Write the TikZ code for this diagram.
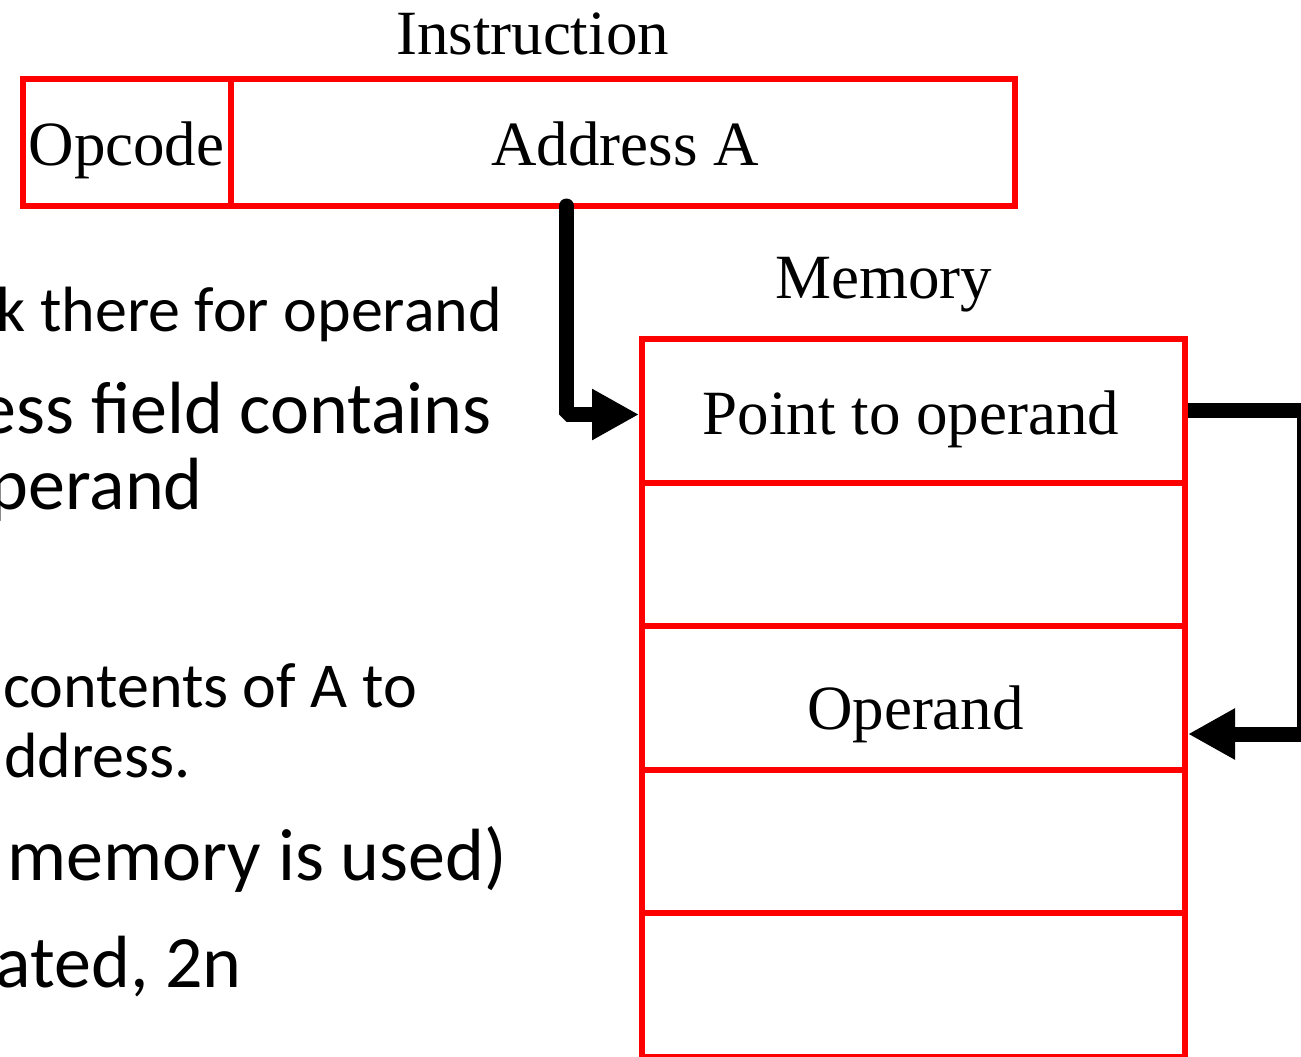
\documentclass[tikz,border=0pt]{standalone}
\usepackage{fontspec}
\setmainfont{Liberation Serif}
\newfontfamily\bodyfont{Carlito}
\usetikzlibrary{arrows.meta}

\tikzset{
  cell/.style={draw=red, line width=6pt, inner sep=0pt, minimum width=#1},
  memrow/.style={draw=red, line width=6pt, inner sep=0pt, minimum width=543pt, minimum height=143.5pt},
  serif/.style={inner sep=0pt, anchor=base, font=\fontsize{63}{70}\selectfont},
  bullet/.style={inner sep=0pt, anchor=base east, font=\bodyfont\fontsize{64}{72}\selectfont},
  subbullet/.style={inner sep=0pt, anchor=base east, font=\bodyfont\fontsize{74}{82}\selectfont},
  conn/.style={line width=15pt, -{Triangle[length=47pt,width=48pt]}}
}

\begin{document}
\begin{tikzpicture}[x=1pt, y=-1pt]
  \useasboundingbox (0,0) rectangle (1301,1057);
  \clip (0,0) rectangle (1301,1057);

  % instruction word
  \node[serif] (instr) at (532.5,55) {Instruction};
  \node[cell=207.5pt, minimum height=127pt] (opc) at (126.75,142.5) {};
  \node[cell=784.5pt, minimum height=127pt] (addr) at (622.75,142.5) {};
  \node[serif] (opctxt) at (126.5,165) {Opcode};
  \node[serif] (addrtxt) at (625,165) {Address A};

  % memory column
  \node[serif] (memtitle) at (883.5,298) {Memory};
  \node[memrow] (row1) at (913.5,410.75) {};
  \node[memrow] (row2) at (913.5,554.25) {};
  \node[memrow] (row3) at (913.5,697.75) {};
  \node[memrow] (row4) at (913.5,841.25) {};
  \node[memrow] (row5) at (913.5,984.75) {};
  \node[serif] (ptr) at (911,434) {Point to operand};
  \node[serif] (opd) at (915.5,729) {Operand};

  % bullet text on the left
  \node[bullet] (t1) at (502,331) {k there for operand};
  \node[subbullet] (t2) at (492,433) {ess field contains};
  \node[subbullet] (t3) at (203,509) {perand};
  \node[bullet] (t4) at (417,707) {contents of A to};
  \node[bullet] (t5) at (191,777) {ddress.};
  \node[subbullet] (t6) at (507,880) {memory is used)};
  \node[subbullet] (t7) at (242,987) {ated, 2n};

  % address field points to the pointer word
  \coordinate (tapA) at (566.5,206);
  \coordinate (bendA) at (566.5,414.5);
  \draw[conn, line cap=round, line join=bevel] (tapA) -- (bendA) -- (bendA -| row1.west);

  % pointer word points to the operand
  \coordinate (outB) at (1304,410);
  \coordinate (backB) at (1304,734);
  \draw[conn] (outB -| row1.east) -- (outB) -- (backB) -- (backB -| row3.east);
\end{tikzpicture}
\end{document}
